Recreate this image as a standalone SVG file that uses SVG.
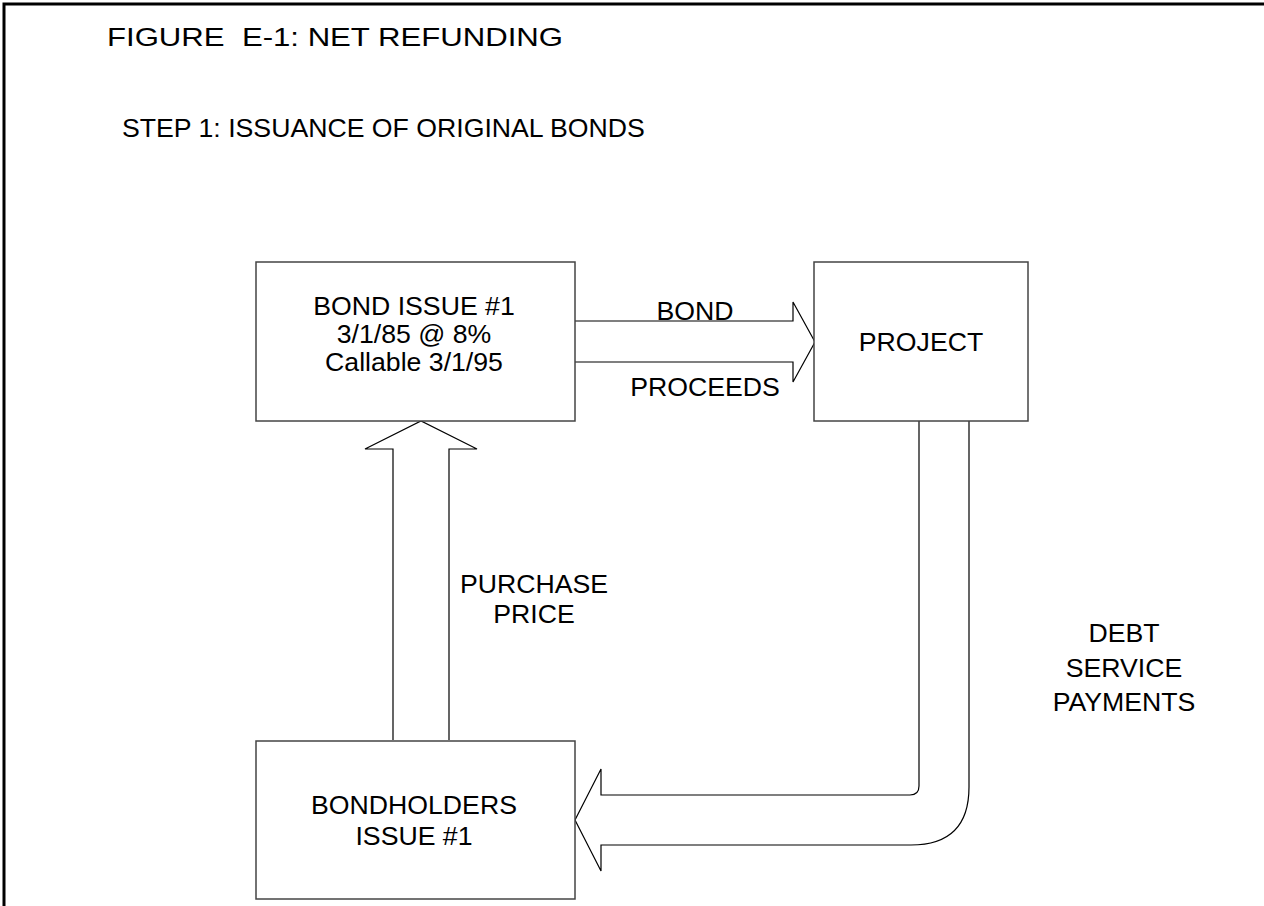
<svg xmlns="http://www.w3.org/2000/svg" width="1264" height="906" viewBox="0 0 1264 906">
<style>
text{font-family:"Liberation Sans",Arial,sans-serif;fill:#000;font-size:26.67px;}
.t{white-space:pre;}
.m{text-anchor:middle;}
.box{fill:#fff;stroke:#444;stroke-width:1.5;}
.arr{fill:#fff;stroke:#000;stroke-width:1.2;stroke-linejoin:miter;}
.frame{fill:none;stroke:#000;stroke-width:3;}
</style>
<rect width="1264" height="906" fill="#fff"/>
<path class="frame" d="M4,906 V4 H1264"/>
<text class="t" x="107" y="46" xml:space="preserve" textLength="456" lengthAdjust="spacingAndGlyphs">FIGURE  E-1: NET REFUNDING</text>
<text class="t" x="122" y="137">STEP 1: ISSUANCE OF ORIGINAL BONDS</text>
<g id="connectors">
<path id="c-bond-project" class="arr" d="M575,321 H793 V302 L815,342 L793,382 V362 H575"/>
<path id="c-holders-bond" class="arr" d="M393,740 V449 H365 L421,421 L477,449 H449 V740"/>
<path id="c-project-holders" class="arr" d="M919,421 V786 Q919,795 910,795 H601 V769 L575,820 L601,871 V845 H911 Q969,845 969,787 V421"/>
</g>
<g id="n-bond-issue">
<rect class="box" x="256" y="262" width="319" height="159"/>
<text class="m" x="414" y="315">BOND ISSUE #1</text>
<text class="m" x="414" y="343">3/1/85 @ 8%</text>
<text class="m" x="414" y="371">Callable 3/1/95</text>
</g>
<g id="n-project">
<rect class="box" x="814" y="262" width="214" height="159"/>
<text class="m" x="921" y="351">PROJECT</text>
</g>
<g id="n-bondholders">
<rect class="box" x="256" y="741" width="319" height="158"/>
<text class="m" x="414" y="814">BONDHOLDERS</text>
<text class="m" x="414" y="845">ISSUE #1</text>
</g>
<g id="labels">
<text class="m" x="695" y="320">BOND</text>
<text class="m" x="705" y="396">PROCEEDS</text>
<text class="m" x="534" y="593">PURCHASE</text>
<text class="m" x="534" y="623">PRICE</text>
<text class="m" x="1124" y="642">DEBT</text>
<text class="m" x="1124" y="677">SERVICE</text>
<text class="m" x="1124" y="711">PAYMENTS</text>
</g>
</svg>
